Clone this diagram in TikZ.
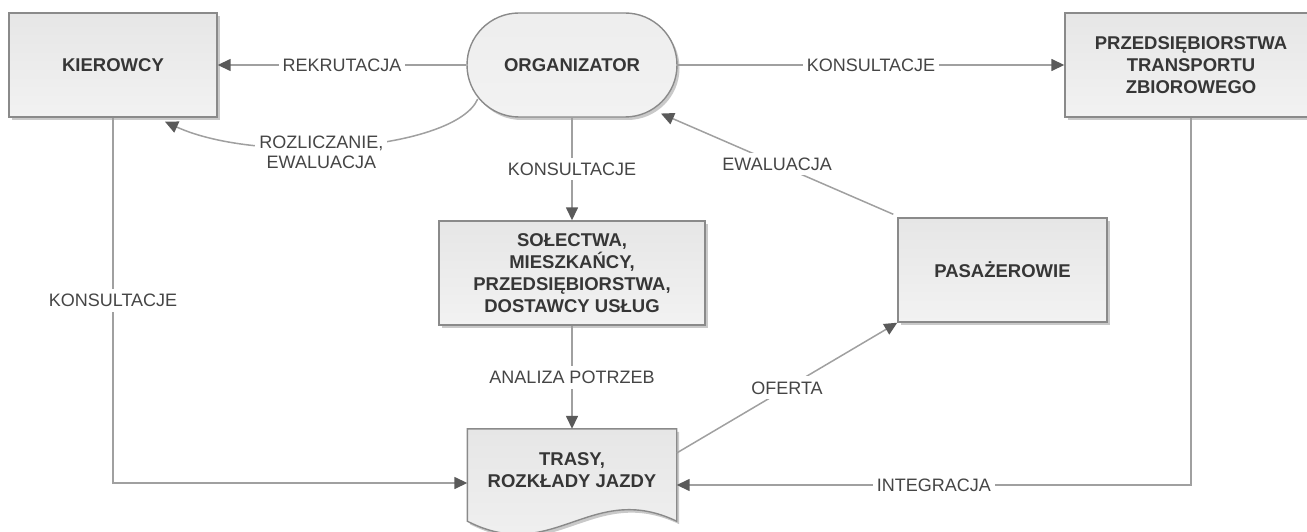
\documentclass[tikz,border=0pt]{standalone}
\usepackage{fontspec}
\setmainfont{Liberation Sans}
\usetikzlibrary{arrows.meta,shadows,calc,backgrounds}
\definecolor{boxborder}{HTML}{8A8A8A}
\definecolor{boxtop}{HTML}{E6E6E6}
\definecolor{boxbot}{HTML}{F2F2F2}
\definecolor{boxtext}{HTML}{363636}
\definecolor{lbltext}{HTML}{454545}
\definecolor{linec}{HTML}{A0A0A0}
\definecolor{arrowc}{HTML}{5A5A5A}
\begin{document}
\begin{tikzpicture}[x=1pt,y=-1pt,
  shade box/.style={draw=boxborder, line width=1.4pt, top color=boxtop, bottom color=boxbot,
    drop shadow={shadow xshift=2.5pt, shadow yshift=-3pt, opacity=0.3, fill=black!70}},
  boxnode/.style={shade box, inner sep=0pt, align=center,
    font=\fontsize{18.5}{22}\selectfont\bfseries, text=boxtext},
  lbl/.style={fill=white, inner xsep=4pt, inner ysep=5pt,
    font=\fontsize{18}{20}\selectfont, text=lbltext, align=center},
  conn/.style={draw=linec, line width=1.5pt},
  arr/.style={conn, -{Triangle[length=13pt,width=12pt,color=arrowc]}}]
\useasboundingbox (0,0) rectangle (1307,532);

\node[boxnode, minimum width=208pt, minimum height=104pt] (kier) at (113,65) {KIEROWCY};
\node[boxnode, minimum width=210pt, minimum height=104pt, rounded corners=52pt, top color=boxtop!70!white] (org) at (572,65) {ORGANIZATOR};
\node[boxnode, minimum width=252pt, minimum height=104pt] (prz) at (1191,65) {PRZEDSIĘBIORSTWA\\TRANSPORTU\\ZBIOROWEGO};
\node[boxnode, minimum width=266pt, minimum height=104pt] (sol) at (572,273) {SOŁECTWA,\\MIESZKAŃCY,\\PRZEDSIĘBIORSTWA,\\DOSTAWCY USŁUG};
\node[boxnode, minimum width=209pt, minimum height=104pt] (pas) at (1002.5,270) {PASAŻEROWIE};
\node[inner sep=0pt, minimum width=209pt, minimum height=82pt, align=center,
  font=\fontsize{18.5}{22}\selectfont\bfseries, text=boxtext] (trasy) at (572,470) {TRASY,\\ROZKŁADY JAZDY};
\begin{pgfonlayer}{background}
\path[shade box] (trasy.north west) -- (trasy.north east) -- ($(trasy.south east)+(0,10)$)
  .. controls ($(trasy.south east)+(-86,-31)$) and ($(trasy.south west)+(86,54)$) .. ($(trasy.south west)+(0,10)$) -- cycle;
\end{pgfonlayer}

\draw[arr] (org.west) -- node[lbl] {REKRUTACJA} (kier.east);
\draw[arr] (org.east) -- node[lbl] {KONSULTACJE} (prz.west);
\draw[arr] ($(org.west)+(52,0)+(140:53)$) .. controls (455,150) and (260,165) ..
  node[lbl, pos=0.57, yshift=-5pt] {ROZLICZANIE,\\EWALUACJA} ($(kier.south)+(52,4)$);
\draw[arr] (org.south) -- node[lbl] {KONSULTACJE} (sol.north);
\draw[arr] (sol.south) -- node[lbl] {ANALIZA POTRZEB} (trasy.north);
\draw[arr] (kier.south) |- node[lbl, pos=0.25] {KONSULTACJE} ($(trasy.west)+(0,13)$);
\draw[arr] (prz.south) |- node[lbl, pos=0.75] {INTEGRACJA} ($(trasy.east)+(0,15)$);
\draw[arr] ($(trasy.east)+(0,-17)$) -- node[lbl] {OFERTA} (pas.south west);
\draw[arr] ($(pas.north west)+(-4,-3)$) -- node[lbl] {EWALUACJA} ($(org.east)+(-52,0)+(54:60)$);
\end{tikzpicture}
\end{document}
